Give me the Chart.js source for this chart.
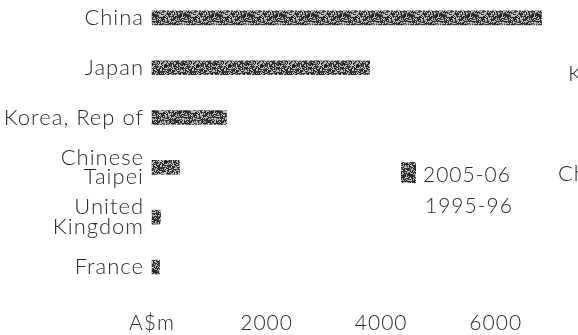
<!DOCTYPE html>
<html>
<head>
<meta charset="utf-8">
<style>
  html, body { margin: 0; padding: 0; background: #fff; }
  #wrap { position: relative; width: 578px; height: 335px; }
</style>
<script src="https://cdn.jsdelivr.net/npm/chart.js@4.4.1/dist/chart.umd.min.js"></script>
</head>
<body>
<div id="wrap"><canvas id="chart" width="578" height="335"></canvas></div>
<script>
// Source countries, top to bottom
const categories = ['China', 'Japan', 'Korea, Rep of', ['Chinese', 'Taipei'], ['United', 'Kingdom'], 'France'];
// Imports, A$m
const values2005 = [6800, 3800, 1300, 480, 150, 130];
const values1995 = [null, null, null, null, null, null];
const seriesLabels = ['2005-06', '1995-96'];
const xTicks = [0, 2000, 4000, 6000];
const unitLabel = 'A$m';
// Neighbouring panel labels running off the right edge
const sideLabels = ['Korea, Rep of', 'China'];

const FONT = "'Lato', 'Noto Sans', sans-serif";
const INK = '#2a2a2a';
const SPACING = '1px';

// Grainy halftone-style fill for the bars
function grainPattern() {
  const c = document.createElement('canvas');
  c.width = 32; c.height = 32;
  const g = c.getContext('2d');
  const img = g.createImageData(32, 32);
  let s = 24681;
  for (let i = 0; i < 32 * 32; i++) {
    s = (s * 1103515245 + 12345) & 0x7fffffff;
    const r = (s >> 8) % 100;
    const v = r < 55 ? 30 + (r % 40) : 120 + (r % 90);
    img.data[i * 4] = v; img.data[i * 4 + 1] = v; img.data[i * 4 + 2] = v; img.data[i * 4 + 3] = 255;
  }
  g.putImageData(img, 0, 0);
  return g.createPattern(c, 'repeat');
}
const fill = grainPattern();

// Slightly open letter spacing for all chart text
const spacing = {
  id: 'spacing',
  beforeUpdate(chart) { chart.ctx.letterSpacing = SPACING; },
  beforeDraw(chart) { chart.ctx.letterSpacing = SPACING; }
};

const legendAndSide = {
  id: 'legendAndSide',
  afterDraw(chart) {
    const ctx = chart.ctx;
    ctx.save();
    ctx.letterSpacing = SPACING;
    ctx.font = '300 21px ' + FONT;
    ctx.textBaseline = 'middle';
    ctx.textAlign = 'left';
    // legend
    ctx.fillStyle = chart.data.datasets[0].backgroundColor;
    ctx.fillRect(401, 162, 15, 21);
    ctx.fillStyle = INK;
    ctx.fillText(chart.data.datasets[0].label, 423, 175);
    ctx.fillText(chart.data.datasets[1].label, 425, 206);
    // labels of the next panel, cut by the edge
    ctx.font = '300 22px ' + FONT;
    ctx.fillText(sideLabels[0], 568, 74);
    ctx.fillText(sideLabels[1], 558, 174);
    ctx.restore();
  }
};

new Chart(document.getElementById('chart'), {
  type: 'bar',
  data: {
    labels: categories,
    datasets: [
      { label: seriesLabels[0], data: values2005, backgroundColor: fill, barThickness: 14, grouped: false, clip: false },
      { label: seriesLabels[1], data: values1995, backgroundColor: 'rgba(0,0,0,0)', barThickness: 14, grouped: false, clip: false }
    ]
  },
  options: {
    indexAxis: 'y',
    responsive: false,
    animation: false,
    layout: { padding: { top: 3, right: 25, left: 0, bottom: 0 } },
    plugins: { legend: { display: false }, tooltip: { enabled: false } },
    scales: {
      y: {
        offset: false,
        grid: { display: false, drawTicks: false },
        border: { display: false },
        ticks: {
          padding: 8,
          color: INK,
          font: { family: FONT, size: 22, weight: 300, lineHeight: 0.9 }
        },
        afterFit(scale) { scale.width = 152; }
      },
      x: {
        min: 0,
        max: 7000,
        grid: { display: false, drawTicks: false },
        border: { display: false },
        afterBuildTicks(scale) { scale.ticks = xTicks.map(v => ({ value: v })); },
        ticks: {
          padding: 44,
          color: INK,
          maxRotation: 0,
          font: { family: FONT, size: 21, weight: 300 },
          callback: (v) => v === 0 ? unitLabel : String(v)
        },
        afterFit(scale) { scale.height = 68; }
      }
    }
  },
  plugins: [spacing, legendAndSide]
});
</script>
</body>
</html>
